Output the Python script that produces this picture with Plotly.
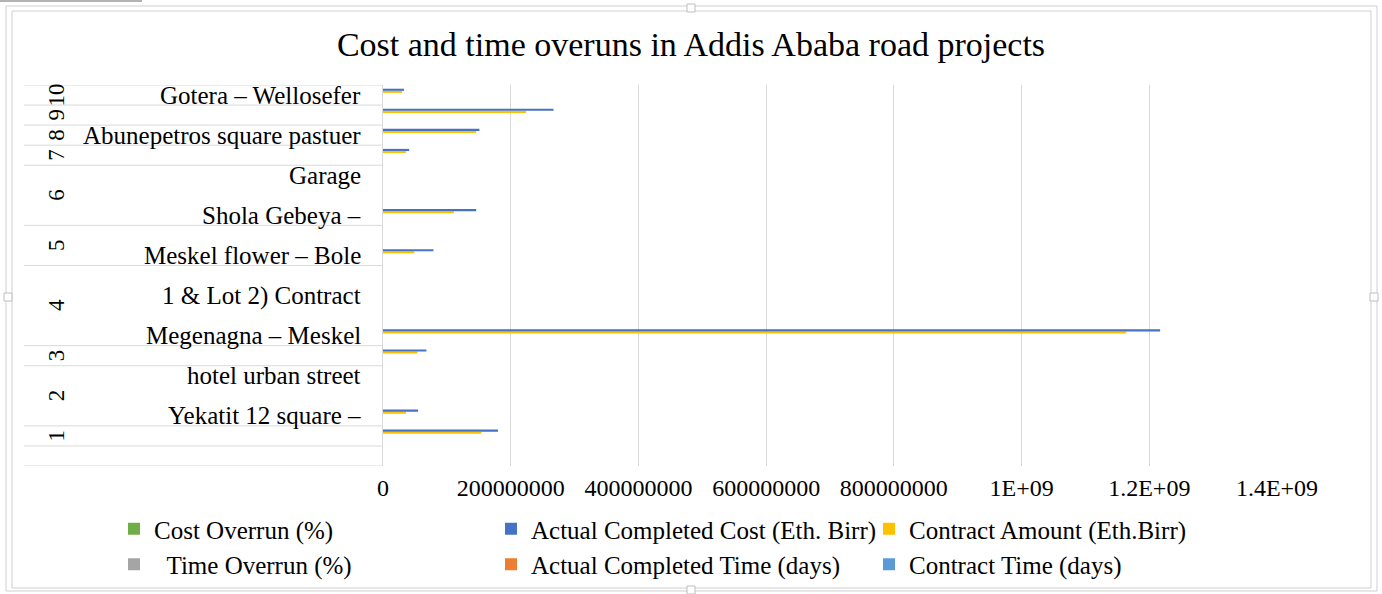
import plotly.graph_objects as go

# ---- data (Excel sheet rows, listed bottom -> top) ----
row_group = ["", "1", "2", "2", "2", "3", "4", "4", "4", "4", "5", "5",
             "6", "6", "6", "7", "8", "9", "10"]
row_label = ["", "", "Yekatit 12 square –", "", "hotel urban street", "",
             "Megenagna – Meskel", "", "1 & Lot 2) Contract", "",
             "Meskel flower – Bole", "", "Shola Gebeya –", "", "Garage", "",
             "Abunepetros square pastuer", "", "Gotera – Wellosefer"]
N = None
actual_cost = [N, 180e6, 55e6, N, N, 68e6, 1217e6, N, N, N, 79e6, N,
               146e6, N, N, 41e6, 151e6, 267e6, 33e6]
contract_amount = [N, 154e6, 36e6, N, N, 54e6, 1164e6, N, N, N, 49e6, N,
                   111e6, N, N, 36e6, 146e6, 224e6, 30e6]
cost_overrun = [N, 17, 53, N, N, 26, 5, N, N, N, 62, N, 32, N, N, 14, 4, 19, 10]
time_overrun = [N, 100, 103, N, N, 150, 67, N, N, N, 103, N, 52, N, N, 200, 103, 50, 100]
actual_time = [N, 1460, 1095, N, N, 912, 1500, N, N, N, 1095, N, 1095, N, N, 1095, 1095, 1095, 730]
contract_time = [N, 730, 540, N, N, 365, 900, N, N, N, 540, N, 720, N, N, 365, 540, 730, 365]

x_tickvals = [0, 2e8, 4e8, 6e8, 8e8, 1e9, 1.2e9, 1.4e9]
x_ticktext = ["0", "200000000", "400000000", "600000000", "800000000",
              "1E+09", "1.2E+09", "1.4E+09"]

FONT = "Liberation Serif, Times New Roman, serif"
rows = list(range(len(row_group)))

# plot-area geometry in pixels (for converting page positions to paper units)
W, H = 1382, 594
L, R, T, B = 383, 1277, 85, 466
def PX(px):
    return (px - L) / (R - L)
def PY(py):
    return (B - py) / (B - T)

fig = go.Figure()

# trace order bottom -> top inside each cluster
series = [
    ("Contract Time (days)", contract_time, "#5B9BD5", "legend3", 2),
    ("Actual Completed Time (days)", actual_time, "#ED7D31", "legend2", 2),
    ("\u00a0\u00a0Time Overrun (%)", time_overrun, "#A5A5A5", "legend", 2),
    ("Cost Overrun (%)", cost_overrun, "#70AD47", "legend", 1),
    ("Contract Amount (Eth.Birr)", contract_amount, "#FFC000", "legend3", 1),
    ("Actual Completed Cost (Eth. Birr)", actual_cost, "#4472C4", "legend2", 1),
]
for name, vals, col, lg, rank in series:
    fig.add_trace(go.Bar(
        y=rows, x=vals, name=name, orientation="h",
        marker=dict(color=col, line=dict(width=0)),
        legend=lg, legendrank=rank, legendgroup=name,
    ))

# outer-level separators and labels (Excel multi-level category axis)
bounds = [i - 0.5 for i in rows if i == 0 or row_group[i] != row_group[i - 1]]
bounds.append(len(rows) - 0.5)
for b in bounds:
    fig.add_shape(type="line", xref="paper", yref="y",
                  x0=PX(24), x1=0, y0=b, y1=b,
                  line=dict(color="#d9d9d9", width=1))

groups = []
for i, g in enumerate(row_group):
    if i == 0 or g != row_group[i - 1]:
        groups.append([g, i, i])
    else:
        groups[-1][2] = i
for g, a, b in groups:
    if g:
        fig.add_annotation(x=PX(42), xref="paper", y=(a + b) / 2, yref="y",
                           text=g, textangle=-90, showarrow=False,
                           font=dict(family=FONT, size=23, color="#000000"))

for i, lab in enumerate(row_label):
    if lab:
        fig.add_annotation(x=PX(363), xref="paper", y=i, yref="y",
                           text=lab, xanchor="right", showarrow=False,
                           font=dict(family=FONT, size=25, color="#000000"))

# picture frame (Word picture border)
frame = "#cfcfcf"
fig.add_shape(type="rect", xref="paper", yref="paper",
              x0=PX(6), x1=PX(1377), y0=PY(591), y1=PY(6),
              line=dict(color=frame, width=1))
fig.add_shape(type="rect", xref="paper", yref="paper",
              x0=PX(12), x1=PX(1371), y0=PY(588), y1=PY(11),
              line=dict(color=frame, width=1))
for cx, cy in [(691, 8), (8, 297), (1374, 297), (691, 590)]:
    fig.add_shape(type="rect", xref="paper", yref="paper",
                  x0=PX(cx - 4), x1=PX(cx + 4), y0=PY(cy + 4), y1=PY(cy - 4),
                  line=dict(color="#bdbdbd", width=1), fillcolor="white")
fig.add_shape(type="line", xref="paper", yref="paper",
              x0=PX(0), x1=PX(142), y0=PY(1), y1=PY(1),
              line=dict(color="#9a9a9a", width=1.5))

leg_common = dict(orientation="v", xanchor="left", yanchor="top",
                  font=dict(family=FONT, size=25, color="#000000"),
                  bgcolor="rgba(0,0,0,0)", borderwidth=0,
                  tracegroupgap=6, traceorder="normal")

fig.update_layout(
    width=W, height=H,
    margin=dict(l=L, r=W - R, t=T, b=H - B, autoexpand=False),
    paper_bgcolor="white", plot_bgcolor="white",
    barmode="group", bargap=0.37, bargroupgap=0,
    title=dict(text="Cost and time overuns in Addis Ababa road projects",
               x=0.5, xref="container", xanchor="center",
               y=1 - 44 / H, yref="container", yanchor="middle",
               font=dict(family=FONT, size=34, color="#000000")),
    xaxis=dict(range=[0, 1.4e9], tickvals=x_tickvals, ticktext=x_ticktext,
               showgrid=True, gridcolor="#d9d9d9", gridwidth=1,
               zeroline=False, showline=False, ticks="",
               tickfont=dict(family=FONT, size=24, color="#000000"),
               ticklabelstandoff=5, fixedrange=True),
    yaxis=dict(range=[-0.5, len(rows) - 0.5], showticklabels=False,
               showgrid=False, zeroline=False, ticks="",
               showline=True, linecolor="#d9d9d9", linewidth=1,
               fixedrange=True),
    legend=dict(x=PX(114), y=PY(506), **leg_common),
    legend2=dict(x=PX(491), y=PY(506), **leg_common),
    legend3=dict(x=PX(869), y=PY(506), **leg_common),
    showlegend=True,
)

fig.write_html("out.html",
               config={"displayModeBar": False},
               post_script="document.body.style.margin='0';"
                           "document.body.style.padding='0';")
